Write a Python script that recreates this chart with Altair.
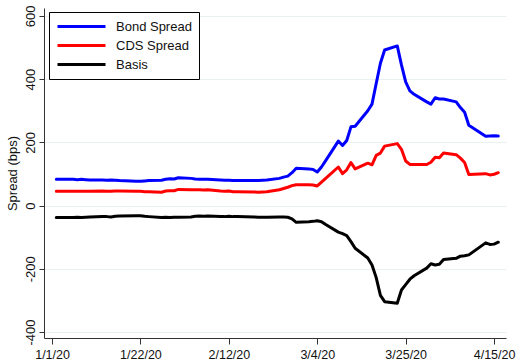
import altair as alt
import pandas as pd

# Trading days, Jan 2 - Apr 16, 2020
dates = [
    "2020-01-02", "2020-01-03", "2020-01-06", "2020-01-07", "2020-01-08", "2020-01-09", "2020-01-10",
    "2020-01-13", "2020-01-14", "2020-01-15", "2020-01-16", "2020-01-17",
    "2020-01-21", "2020-01-22", "2020-01-23", "2020-01-24",
    "2020-01-27", "2020-01-28", "2020-01-29", "2020-01-30", "2020-01-31",
    "2020-02-03", "2020-02-04", "2020-02-05", "2020-02-06", "2020-02-07",
    "2020-02-10", "2020-02-11", "2020-02-12", "2020-02-13", "2020-02-14",
    "2020-02-18", "2020-02-19", "2020-02-20", "2020-02-21",
    "2020-02-24", "2020-02-25", "2020-02-26", "2020-02-27", "2020-02-28",
    "2020-03-02", "2020-03-03", "2020-03-04", "2020-03-05", "2020-03-06",
    "2020-03-09", "2020-03-10", "2020-03-11", "2020-03-12", "2020-03-13",
    "2020-03-16", "2020-03-17", "2020-03-18", "2020-03-19", "2020-03-20",
    "2020-03-23", "2020-03-24", "2020-03-25", "2020-03-26", "2020-03-27",
    "2020-03-30", "2020-03-31", "2020-04-01", "2020-04-02", "2020-04-03",
    "2020-04-06", "2020-04-07", "2020-04-08", "2020-04-09",
    "2020-04-13", "2020-04-14", "2020-04-15", "2020-04-16",
]

bond_spread = [
    83, 83, 83, 82, 83, 82, 81,
    81, 80, 81, 80, 79,
    77, 77, 78, 79,
    80, 83, 85, 84, 88,
    86, 84, 83, 83, 83,
    81, 80, 80, 79, 79,
    79, 79, 80, 81,
    86, 90, 93, 104, 118,
    116, 114, 106, 122, 142,
    204, 190, 206, 249, 251,
    300, 321, 386, 450, 492,
    505, 445, 391, 363, 352,
    328, 321, 341, 337, 337,
    328, 310, 295, 254,
    219, 220, 221, 220,
]

cds_spread = [
    45, 45, 45, 45, 45, 45, 45,
    46, 45, 45, 46, 46,
    45, 45, 44, 44,
    42, 46, 47, 47, 51,
    50, 50, 50, 49, 50,
    46, 45, 46, 44, 44,
    43, 42, 43, 44,
    50, 54, 58, 63, 66,
    66, 65, 62, 74, 86,
    122, 101, 113, 136, 116,
    134, 129, 159, 166, 188,
    196, 178, 141, 130, 130,
    130, 137, 153, 151, 166,
    161, 150, 136, 98,
    101, 97, 99, 104,
]

basis = [
    -38, -38, -38, -37, -38, -37, -36,
    -35, -35, -36, -34, -33,
    -32, -32, -34, -35,
    -38, -37, -38, -37, -37,
    -36, -34, -33, -34, -33,
    -35, -35, -34, -35, -35,
    -36, -37, -37, -37,
    -36, -36, -37, -42, -53,
    -51, -50, -48, -51, -60,
    -84, -89, -95, -114, -135,
    -166, -188, -228, -284, -304,
    -309, -267, -250, -233, -222,
    -198, -184, -188, -186, -171,
    -167, -160, -159, -156,
    -118, -123, -122, -116,
]

series_names = ["Bond Spread", "CDS Spread", "Basis"]
series_colors = ["#0000ff", "#ff0000", "#000000"]

x_ticks = [(2020, 1, 1), (2020, 1, 22), (2020, 2, 12), (2020, 3, 4), (2020, 3, 25), (2020, 4, 15)]
y_ticks = [-400, -200, 0, 200, 400, 600]

rows = []
for name, values in zip(series_names, [bond_spread, cds_spread, basis]):
    for d, v in zip(dates, values):
        rows.append({"date": d + "T00:00:00", "value": v, "series": name})
df = pd.DataFrame(rows)

FONT = "Liberation Sans"

# Legend key: a long horizontal stroke drawn to the right of the entry origin,
# so the entry row stays short while the key line is wide.
LEGEND_KEY = "M-1,0H7"

chart = (
    alt.Chart(df)
    .mark_line(strokeWidth=3, strokeJoin="round", strokeCap="round")
    .encode(
        x=alt.X(
            "date:T",
            scale=alt.Scale(
                domain=[
                    alt.DateTime(year=2019, month=12, date=30, hours=2),
                    alt.DateTime(year=2020, month=4, date=17, hours=20),
                ]
            ),
            axis=alt.Axis(
                title=None,
                values=[alt.DateTime(year=y, month=m, date=d) for (y, m, d) in x_ticks],
                format="%-m/%-d/%y",
                grid=False,
                labelFontSize=12.5,
                labelPadding=4,
                tickSize=6,
                labelFlush=False,
            ),
        ),
        y=alt.Y(
            "value:Q",
            scale=alt.Scale(domain=[-419, 625], nice=False, zero=False),
            axis=alt.Axis(
                title="Spread (bps)",
                values=y_ticks,
                labelExpr="'' + datum.value",
                grid=True,
                labelAngle=270,
                labelAlign="center",
                labelBaseline="alphabetic",
                labelPadding=5,
                labelFontSize=13,
                tickSize=5,
                titleFontSize=13,
                titleFontWeight="normal",
                titleAngle=270,
                titleAlign="center",
                titleBaseline="middle",
                titleX=-31.5,
                titleY=165,
            ),
        ),
        color=alt.Color(
            "series:N",
            scale=alt.Scale(domain=series_names, range=series_colors),
            sort=series_names,
            legend=alt.Legend(
                title=None,
                orient="none",
                legendX=5,
                legendY=4,
                direction="vertical",
                symbolType=LEGEND_KEY,
                symbolSize=144,
                symbolStrokeWidth=3,
                labelFontSize=13,
                labelOffset=45,
                padding=7,
                rowPadding=4,
                strokeColor="#000000",
                fillColor="#ffffff",
            ),
        ),
        order=alt.Order("date:T"),
    )
    .properties(
        width=462,
        height=330,
        autosize=alt.AutoSizeParams(type="none"),
        padding={"left": 44, "top": 8, "right": 12, "bottom": 23},
    )
    .configure(font=FONT, background="white")
    .configure_view(stroke=None)
    .configure_axis(
        domainColor="#333333",
        tickColor="#333333",
        labelColor="#111111",
        titleColor="#111111",
        gridColor="#e8f0f0",
        gridWidth=1,
        labelFont=FONT,
        titleFont=FONT,
    )
    .configure_legend(labelFont=FONT, labelColor="#111111")
)

chart.save("out.html", embed_options={"renderer": "svg", "actions": False})
